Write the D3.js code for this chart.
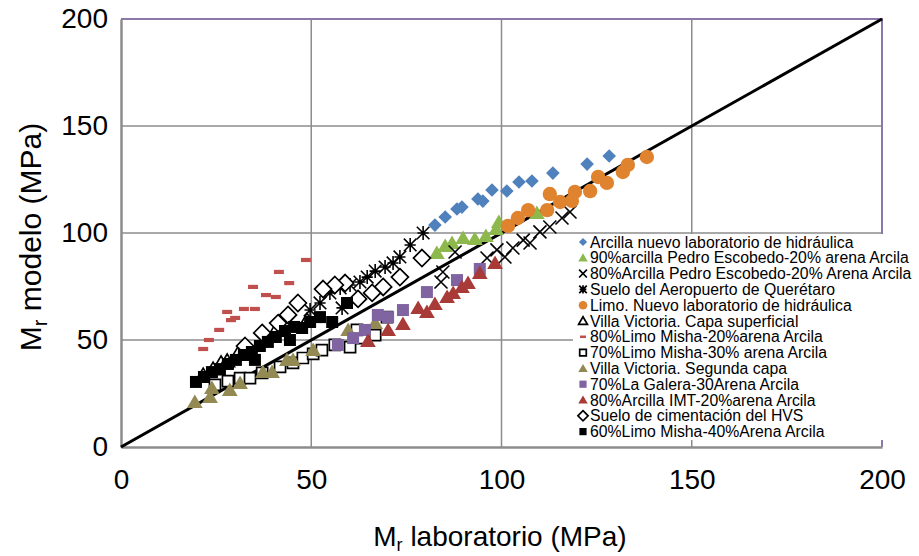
<!DOCTYPE html>
<html>
<head>
<meta charset="utf-8">
<title>Mr modelo vs Mr laboratorio</title>
<script src="https://d3js.org/d3.v7.min.js"></script>
<style>
  body { margin: 0; background: #fff; }
  text { font-family: "Liberation Sans", Arial, sans-serif; }
</style>
</head>
<body>
<div id="chart"></div>
<script>
// series names, in legend order
var names = [
  "Arcilla nuevo laboratorio de hidráulica",
  "90%arcilla Pedro Escobedo-20% arena Arcila",
  "80%Arcilla Pedro Escobedo-20% Arena Arcila",
  "Suelo del Aeropuerto de Querétaro",
  "Limo. Nuevo laboratorio de hidráulica",
  "Villa Victoria. Capa superficial",
  "80%Limo Misha-20%arena Arcila",
  "70%Limo Misha-30% arena Arcila",
  "Villa Victoria. Segunda capa",
  "70%La Galera-30Arena Arcila",
  "80%Arcilla IMT-20%arena Arcila",
  "Suelo de cimentación del HVS",
  "60%Limo Misha-40%Arena Arcila"
];

// [Mr laboratorio, Mr modelo] pairs
var arcillaNuevo = [[82.5,103.7],[85.2,107.5],[88.3,111.2],[89.6,112.1],[93.8,115.9],[95.1,114.9],
  [97.5,120.1],[101.4,119.6],[104.6,123.8],[108.0,124.3],[113.5,128.0],[122.5,132.2],[128.3,136.0]];
var pedro90 = [[83.0,90.7],[85.2,93.9],[87.0,95.3],[89.9,97.7],[93.0,97.2],[95.9,98.6],[98.6,101.9],
  [99.3,105.1],[109.3,109.3]];
var pedro80 = [[84.1,77.1],[84.6,81.8],[87.8,91.1],[96.2,88.3],[98.8,92.1],[100.9,88.8],[103.0,93.0],
  [105.7,96.7],[107.5,95.3],[110.1,100.5],[112.7,102.8],[115.9,107.0],[118.0,109.8]];
var aeropuerto = [[79.4,100.0],[76.0,94.4],[73.3,88.8],[71.5,86.0],[69.4,84.1],[66.8,82.2],[64.7,79.4],
  [62.8,77.1],[60.2,75.7],[57.6,74.3],[54.9,72.0],[52.3,67.3],[58.1,65.0],[49.7,64.0]];
var limoNuevo = [[101.7,103.3],[104.3,107.0],[107.0,110.7],[112.0,110.7],[112.7,118.2],[115.4,114.5],
  [118.5,115.0],[119.3,119.2],[123.3,119.6],[125.4,126.2],[127.7,123.4],[131.9,128.5],[133.2,131.8],[138.2,135.5]];
var villaSup = [[21.6,33.6],[24.2,36.4],[26.3,39.3],[27.9,40.2],[31.3,45.3],[32.6,43.9],[40.7,54.7],[48.9,59.3]];
var misha80 = [[21.6,45.8],[23.1,50.0],[25.8,54.7],[28.9,59.3],[30.0,60.3],[27.9,63.1],[32.3,64.5],
  [35.2,64.5],[34.7,74.8],[38.1,71.0],[40.7,70.1],[41.5,81.8],[44.2,76.6],[48.6,87.4]];
var misha70 = [[24.7,29.0],[28.1,30.8],[31.3,32.2],[33.9,32.2],[37.1,34.6],[41.8,37.4],[45.2,39.3],
  [47.8,41.6],[50.5,43.5],[52.8,45.3],[56.2,47.7],[60.2,46.7],[63.3,50.9],[66.8,52.3],[62.0,54.7],[69.9,60.7]];
var villaSeg = [[19.4,21.0],[23.4,23.4],[23.9,27.6],[28.6,26.6],[31.3,29.9],[37.3,35.0],[39.7,35.0],
  [43.6,40.7],[45.2,40.7],[50.5,45.3],[59.7,54.7],[66.8,57.9]];
var galera = [[57.0,47.7],[61.0,50.9],[64.1,54.7],[67.5,61.7],[70.2,60.7],[74.1,64.0],[80.4,72.4],
  [88.3,78.0],[94.3,83.2]];
var imt = [[64.9,49.5],[70.2,54.7],[74.1,57.5],[78.1,65.0],[80.4,63.1],[82.5,66.8],[85.7,70.1],
  [87.3,72.0],[89.6,74.8],[91.2,76.6],[94.3,81.3],[98.3,86.0]];
var hvs = [[79.1,88.3],[73.3,79.4],[68.9,74.8],[66.0,72.0],[62.3,69.2],[58.9,76.6],[56.2,75.7],
  [53.1,73.8],[46.5,67.3],[43.9,61.7],[41.3,57.9],[37.1,53.3],[32.6,47.2]];
var misha60 = [[19.7,30.4],[21.8,32.7],[23.9,35.0],[26.0,36.4],[28.1,38.8],[30.2,40.7],[32.3,43.0],
  [34.4,44.4],[36.5,47.2],[38.6,49.1],[40.7,51.4],[43.1,54.2],[45.5,56.1],[47.6,55.6],[49.7,58.4],
  [52.3,60.7],[55.5,58.4],[59.4,67.3],[44.4,50.0],[35.2,40.7]];

var ticks = [0, 50, 100, 150, 200];

var W = 919, H = 556;
var margin = {left: 121, right: 37, top: 19, bottom: 109};

var x = d3.scaleLinear().domain([0, 200]).range([margin.left, W - margin.right]);
var y = d3.scaleLinear().domain([0, 200]).range([H - margin.bottom, margin.top]);

// marker path generators, centred on 0,0
function diamond(s) { return "M0," + (-s) + "L" + s + ",0L0," + s + "L" + (-s) + ",0Z"; }
function tri(s) { return "M0," + (-s) + "L" + (s * 1.05) + "," + (s * 0.8) + "L" + (-s * 1.05) + "," + (s * 0.8) + "Z"; }
function cross(s) { return "M" + (-s) + "," + (-s) + "L" + s + "," + s + "M" + s + "," + (-s) + "L" + (-s) + "," + s; }
function star(s) { return cross(s * 0.9) + "M" + (-s * 0.8) + ",0L" + (s * 0.8) + ",0M0," + (-s) + "L0," + s; }
function circ(s) { return "M" + s + ",0A" + s + "," + s + " 0 1,1 " + (-s) + ",0A" + s + "," + s + " 0 1,1 " + s + ",0Z"; }
function sq(s) { return "M" + (-s) + "," + (-s) + "H" + s + "V" + s + "H" + (-s) + "Z"; }
function dash(s) { return "M" + (-s) + "," + (-s * 0.42) + "H" + s + "V" + (s * 0.42) + "H" + (-s) + "Z"; }

var series = [
  {data: arcillaNuevo, shape: diamond, size: 6.8, fill: "#4f81bd", stroke: "none"},
  {data: pedro90, shape: tri, size: 7.5, fill: "#8db84c", stroke: "none"},
  {data: pedro80, shape: cross, size: 6.5, fill: "none", stroke: "#000", sw: 1.6},
  {data: aeropuerto, shape: star, size: 7, fill: "none", stroke: "#000", sw: 1.6},
  {data: limoNuevo, shape: circ, size: 7.2, fill: "#e0832f", stroke: "none"},
  {data: villaSup, shape: tri, size: 7, fill: "#fff", stroke: "#000", sw: 1.7},
  {data: misha80, shape: dash, size: 5, fill: "#c0504d", stroke: "none"},
  {data: misha70, shape: sq, size: 5.5, fill: "#fff", stroke: "#000", sw: 1.7},
  {data: villaSeg, shape: tri, size: 7.5, fill: "#938953", stroke: "none"},
  {data: galera, shape: sq, size: 6, fill: "#8064a2", stroke: "none"},
  {data: imt, shape: tri, size: 7.5, fill: "#a83a37", stroke: "none"},
  {data: hvs, shape: diamond, size: 8.5, fill: "#fff", stroke: "#000", sw: 1.7},
  {data: misha60, shape: sq, size: 6, fill: "#000", stroke: "none"}
];

var svg = d3.select("#chart").append("svg")
  .attr("width", W).attr("height", H);

// grid
svg.append("g").selectAll("line.gx")
  .data(ticks.slice(1))
  .enter().append("line")
  .attr("x1", d => x(d)).attr("x2", d => x(d))
  .attr("y1", y(0)).attr("y2", y(200))
  .attr("stroke", "#8c8c8c").attr("stroke-width", 1.5);
svg.append("g").selectAll("line.gy")
  .data(ticks.slice(1))
  .enter().append("line")
  .attr("x1", x(0)).attr("x2", x(200))
  .attr("y1", d => y(d)).attr("y2", d => y(d))
  .attr("stroke", "#8c8c8c").attr("stroke-width", 1.5);

// purple frame top and right
svg.append("path")
  .attr("d", "M" + x(0) + "," + y(200) + "H" + x(200) + "V" + y(0))
  .attr("fill", "none").attr("stroke", "#8a78a8").attr("stroke-width", 2);

// axes
var xAxis = svg.append("g").attr("transform", "translate(0," + y(0) + ")")
  .call(d3.axisBottom(x).tickValues(ticks).tickSize(0).tickPadding(22));
var yAxis = svg.append("g").attr("transform", "translate(" + x(0) + ",0)")
  .call(d3.axisLeft(y).tickValues(ticks).tickSize(0).tickPadding(13));
[xAxis, yAxis].forEach(function (a) {
  a.select(".domain").attr("stroke", "#8c8c8c").attr("stroke-width", 2.5);
  a.selectAll("text").attr("font-size", 28).attr("fill", "#000")
    .attr("font-family", "Liberation Sans, Arial, sans-serif");
});

// 1:1 line
svg.append("line")
  .attr("x1", x(0)).attr("y1", y(0)).attr("x2", x(200)).attr("y2", y(200))
  .attr("stroke", "#000").attr("stroke-width", 3);

// points
series.forEach(function (s) {
  svg.append("g").selectAll("path")
    .data(s.data)
    .enter().append("path")
    .attr("transform", d => "translate(" + x(d[0]) + "," + y(d[1]) + ")")
    .attr("d", s.shape(s.size))
    .attr("fill", s.fill)
    .attr("stroke", s.stroke)
    .attr("stroke-width", s.sw || 0);
});

// legend
var lg = svg.append("g").attr("transform", "translate(573,234)");
lg.append("rect").attr("width", 346).attr("height", 206).attr("fill", "#fff");
names.forEach(function (n, i) {
  var s = series[i];
  var row = lg.append("g").attr("transform", "translate(0," + (8 + i * 15.8) + ")");
  row.append("path")
    .attr("transform", "translate(10,0)")
    .attr("d", s.shape(s.size * 0.6))
    .attr("fill", s.fill).attr("stroke", s.stroke)
    .attr("stroke-width", s.sw ? 1.7 : 0);
  row.append("text").attr("x", 17).attr("y", 5.5)
    .attr("font-size", 15.8).text(n);
});

// axis titles
var xt = svg.append("text").attr("x", 500).attr("y", 546)
  .attr("text-anchor", "middle").attr("font-size", 28);
xt.append("tspan").text("M");
xt.append("tspan").attr("font-size", 18).attr("dy", 5).text("r");
xt.append("tspan").attr("dy", -5).text(" laboratorio (MPa)");

var yt = svg.append("text")
  .attr("transform", "translate(41,237) rotate(-90)")
  .attr("text-anchor", "middle").attr("font-size", 30);
yt.append("tspan").text("M");
yt.append("tspan").attr("font-size", 20).attr("dy", 6).text("r");
yt.append("tspan").attr("dy", -6).text(" modelo (MPa)");
</script>
</body>
</html>
